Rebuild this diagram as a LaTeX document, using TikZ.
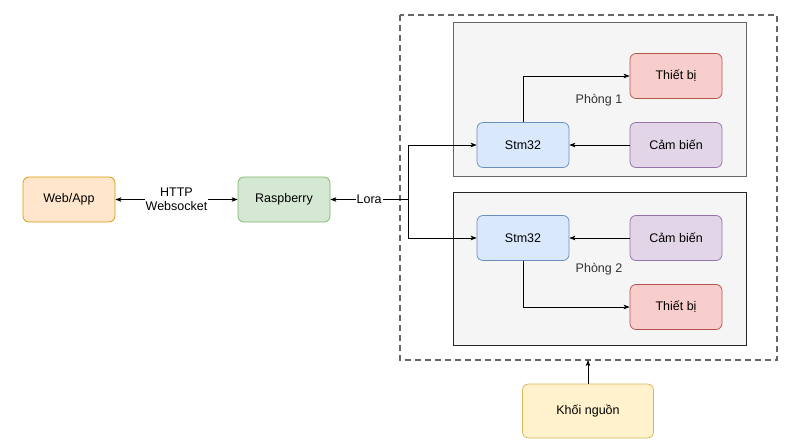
\documentclass[tikz,border=0pt]{standalone}
\usepackage{fontspec}
\setmainfont{Liberation Sans}
\usepackage{tikz}
\usetikzlibrary{arrows.meta, calc, positioning, backgrounds}

\definecolor{webfill}{HTML}{FFE6CC}
\definecolor{webdraw}{HTML}{D79B00}
\definecolor{raspfill}{HTML}{D5E8D4}
\definecolor{raspdraw}{HTML}{82B366}
\definecolor{stmfill}{HTML}{DAE8FC}
\definecolor{stmdraw}{HTML}{6C8EBF}
\definecolor{sensfill}{HTML}{E1D5E7}
\definecolor{sensdraw}{HTML}{9673A6}
\definecolor{devfill}{HTML}{F8CECC}
\definecolor{devdraw}{HTML}{B85450}
\definecolor{powfill}{HTML}{FFF2CC}
\definecolor{powdraw}{HTML}{D6B656}
\definecolor{roomfill}{HTML}{F5F5F5}
\definecolor{roomdraw}{HTML}{666666}
\definecolor{labelgray}{HTML}{333333}

\begin{document}
\begin{tikzpicture}[x=1pt, y=-1pt,
		font=\fontsize{12.5}{14.5}\selectfont,
		block/.style = {draw, rounded corners=6pt, line width=0.75pt,
					minimum width=92pt, minimum height=45pt, align=center},
		link/.style = {-{Stealth[length=6pt, width=4.5pt, inset=1.5pt]}, line width=0.75pt},
		room/.style = {fill=roomfill, line width=0.9pt}
                   ]

	\useasboundingbox (0,0) rectangle (785,442);

%Outer dashed box
	\draw[dashed, dash pattern=on 6pt off 4pt, line width=1.2pt, draw=roomdraw] (400,15) rectangle (777,360);
	\coordinate (boxbottom) at (588,360);

%Rooms
	\draw[room, draw=roomdraw] (453,22) rectangle (746,176);
	\draw[room, draw=black!85] (453,192) rectangle (746,345);

%Left blocks
	\node[block, fill=webfill, draw=webdraw] (web) at (69,199.5) {Web/App};
	\node[block, fill=raspfill, draw=raspdraw] (rasp) at (284,199.5) {Raspberry};

%Room 1
	\node[block, fill=stmfill, draw=stmdraw] (stm1) at (523,145) {Stm32};
	\node[block, fill=sensfill, draw=sensdraw] (sens1) at (676,145) {Cảm biến};
	\node[block, fill=devfill, draw=devdraw] (dev1) at (676,76) {Thiết bị};
	\node[text=labelgray] (room1) at (599,100) {Phòng 1};

%Room 2
	\node[block, fill=stmfill, draw=stmdraw] (stm2) at (523,238) {Stm32};
	\node[block, fill=sensfill, draw=sensdraw] (sens2) at (676,238) {Cảm biến};
	\node[block, fill=devfill, draw=devdraw] (dev2) at (676,307) {Thiết bị};
	\node[text=labelgray] (room2) at (599,269) {Phòng 2};

%Power
	\node[block, fill=powfill, draw=powdraw, minimum width=131pt, minimum height=54pt] (power) at (588,411) {Khối nguồn};

%Connections
	\draw[link, {Stealth[length=6pt, width=4.5pt, inset=1.5pt]}-{Stealth[length=6pt, width=4.5pt, inset=1.5pt]}] (web) -- node[fill=white, inner sep=1pt, align=center] (proto) {HTTP\\Websocket} (rasp);
	\coordinate (jn) at (408,199.5);
	\draw[link] (jn) -- node[fill=white, inner sep=1pt] (lora) {Lora} (rasp);
	\draw[link] (jn) |- (stm1);
	\draw[link] (jn) |- (stm2);

	\draw[link] (stm1) |- (dev1);
	\draw[link] (sens1) -- (stm1);
	\draw[link] (sens2) -- (stm2);
	\draw[link] (stm2) |- (dev2);

	\draw[link] (power) -- (boxbottom);

\end{tikzpicture}
\end{document}
